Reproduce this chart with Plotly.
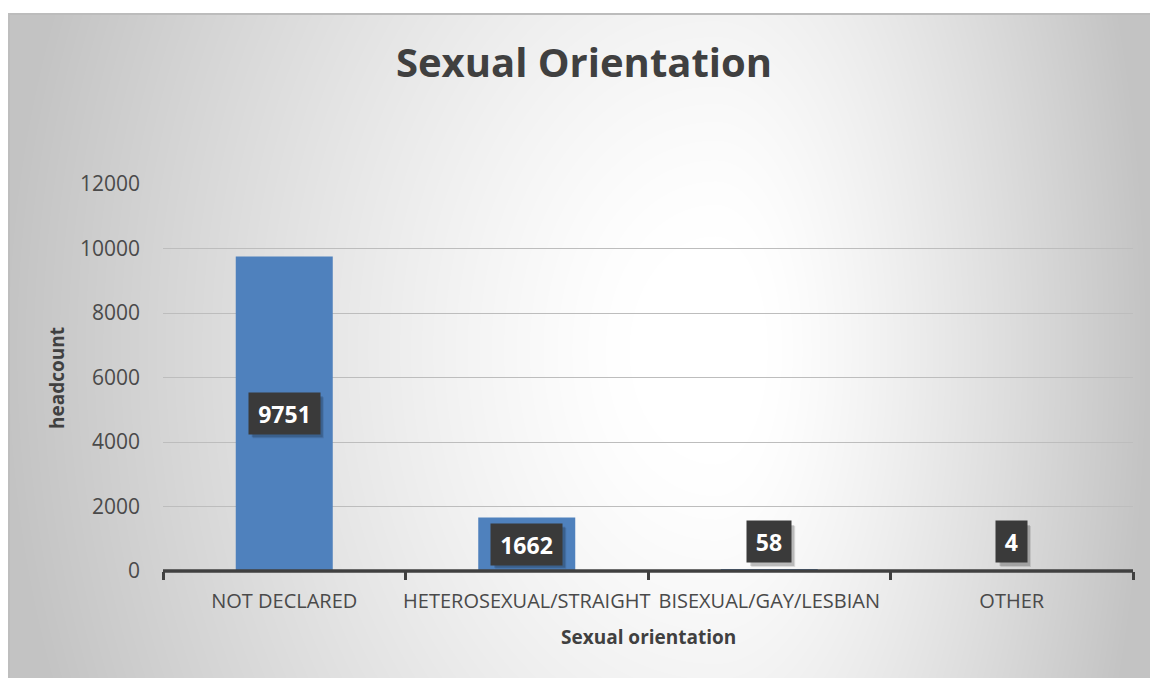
import base64
import struct
import zlib

import numpy as np
import plotly.graph_objects as go

# ---- data ----
categories = ["NOT DECLARED", "HETEROSEXUAL/STRAIGHT", "BISEXUAL/GAY/LESBIAN", "OTHER"]
headcount = [9751, 1662, 58, 4]
y_ticks = [0, 2000, 4000, 6000, 8000, 10000, 12000]
y_tick_labels = ["0", "2000", "4000", "6000", "8000", "10000", "12000"]

W, H = 1150, 678
L, R, T, B = 163, 17, 184, 107
PW, PH = W - L - R, H - T - B

FONT = "Open Sans"


# ---- background radial gradient rendered to a PNG ----
def make_bg():
    yy, xx = np.mgrid[0:H, 0:W].astype(float)
    cx, cy = 715.0, 350.0
    rx = np.where(xx < cx, 715.0, 435.0)
    ry = 950.0
    d = np.sqrt(((xx - cx) / rx) ** 2 + ((yy - cy) / ry) ** 2)
    t = np.clip((d - 0.12) / 0.88, 0, 1) ** 1.25
    g = 255.0 - 60.0 * t
    g[:13, :] = 255
    g[:, :8] = 255
    g[13:15, 8:] = 188
    g[13:, 8:10] = 190
    return np.clip(g, 0, 255).astype(np.uint8)


def png_bytes(arr):
    h, w = arr.shape
    raw = b"".join(b"\x00" + arr[i].tobytes() for i in range(h))

    def chunk(tag, data):
        c = struct.pack(">I", len(data)) + tag + data
        return c + struct.pack(">I", zlib.crc32(tag + data) & 0xFFFFFFFF)

    return (b"\x89PNG\r\n\x1a\n"
            + chunk(b"IHDR", struct.pack(">IIBBBBB", w, h, 8, 0, 0, 0, 0))
            + chunk(b"IDAT", zlib.compress(raw, 9))
            + chunk(b"IEND", b""))


bg_uri = "data:image/png;base64," + base64.b64encode(png_bytes(make_bg())).decode()

fig = go.Figure()
fig.add_trace(go.Bar(
    x=categories, y=headcount,
    marker=dict(color="#4F81BD", line=dict(width=0)),
    width=0.4, hoverinfo="x+y",
))

annotations = []
# category axis line drawn over the bar bases (paper-referenced, so not clipped)
shapes = [dict(
    type="line", xref="paper", yref="paper", x0=0, x1=1, y0=0, y1=0,
    line=dict(color="#404040", width=3.5), layer="above",
)]
PAD = 6
for i, (cat, v) in enumerate(zip(categories, headcount)):
    txt = str(v)
    tw = 13.5 * len(txt) + 5
    bw, bh = tw + 2 * PAD, 41
    if v >= 1000:
        ypos, yanch, ysh = v / 2, "middle", 0
        y0, y1 = -bh / 2 + ysh, bh / 2 + ysh
    else:
        ypos, yanch, ysh = 0, "bottom", 8
        y0, y1 = ysh, ysh + bh
    # soft shadow behind the label box
    for k, a in ((4, 0.10), (3, 0.16)):
        shapes.append(dict(
            type="rect", xref="x", yref="y", xsizemode="pixel", ysizemode="pixel",
            xanchor=i, yanchor=ypos,
            x0=-bw / 2 + k, x1=bw / 2 + k, y0=y0 - k, y1=y1 - k,
            fillcolor="rgba(0,0,0,%.2f)" % a, line=dict(width=0), layer="above",
        ))
    annotations.append(dict(
        x=cat, y=ypos, xref="x", yref="y", yanchor=yanch, xanchor="center",
        text="<b>%s</b>" % txt, showarrow=False, width=tw, height=bh - 2 * PAD,
        font=dict(family=FONT, size=23, color="#ffffff"),
        bgcolor="#3a3a3a", borderpad=PAD,
        yshift=ysh,
    ))

annotations.append(dict(
    text="<b>Sexual orientation</b>", xref="paper", yref="paper",
    x=0.5, y=-(637 - 571) / PH, xanchor="center", yanchor="middle",
    showarrow=False, font=dict(family=FONT, size=19, color="#404040"),
))
annotations.append(dict(
    text="<b>headcount</b>", xref="paper", yref="paper",
    x=(57 - L) / PW, y=(571 - 378) / PH, xanchor="center", yanchor="middle",
    textangle=-90, showarrow=False, font=dict(family=FONT, size=19, color="#404040"),
))

fig.update_layout(
    width=W, height=H,
    margin=dict(l=L, r=R, t=T, b=B, pad=0),
    paper_bgcolor="rgba(0,0,0,0)",
    plot_bgcolor="rgba(0,0,0,0)",
    showlegend=False,
    title=dict(
        text="<b>Sexual Orientation</b>",
        x=584 / W, xanchor="center", xref="container",
        y=1 - 63 / H, yanchor="middle", yref="container",
        font=dict(family=FONT, size=40, color="#404040"),
    ),
    images=[dict(
        source=bg_uri, xref="paper", yref="paper",
        x=-L / PW, y=1 + T / PH, sizex=W / PW, sizey=H / PH,
        xanchor="left", yanchor="top", sizing="stretch", layer="below",
    )],
    annotations=annotations,
    shapes=shapes,
    xaxis=dict(
        showline=False,
        ticks="outside", tickson="boundaries", ticklen=8, tickwidth=3,
        tickcolor="#404040", tickangle=0, ticklabelstandoff=16,
        tickfont=dict(family=FONT, size=20, color="#4a4a4a"),
        showgrid=False, zeroline=False,
    ),
    yaxis=dict(
        range=[0, 12000], tickvals=y_ticks, ticktext=y_tick_labels,
        showgrid=True, gridcolor="#bdbdbd", gridwidth=1,
        zeroline=False, showline=False, ticks="",
        ticklabelstandoff=22,
        tickfont=dict(family=FONT, size=21, color="#4a4a4a"),
    ),
)

fig.write_html("out.html", config={"displayModeBar": False},
               post_script="document.body.style.margin='0';")
